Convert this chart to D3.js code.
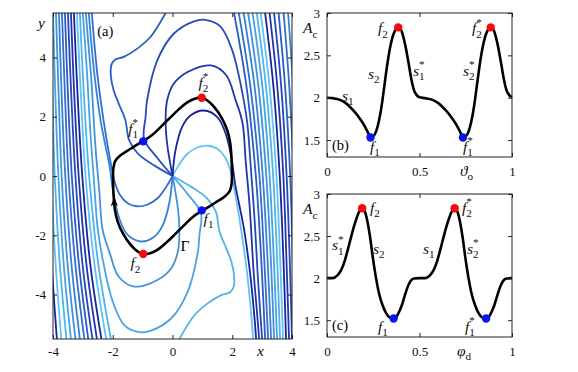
<!DOCTYPE html>
<html>
<head>
<meta charset="utf-8">
<script src="https://cdn.jsdelivr.net/npm/d3@7"></script>
<style>
  body { margin: 0; background: #fff; }
  svg { display: block; font-family: "Liberation Serif", "Times New Roman", serif; }
</style>
</head>
<body>
<div id="chart"></div>
<script>
// ---- data ----
// colour of each isochron phase (light -> navy)
const phaseColor = ["#5fc4f3", "#50b3eb", "#47a3e5", "#3f93de", "#3881d7", "#316ece", "#2b5bc5", "#2548ba", "#1f36ad", "#19239b"];

// panel (a): limit cycle Gamma
const gammaPts = [[1.0,2.64],[0.72,2.6],[0.47,2.47],[0.2,2.24],[-0.08,1.97],[-0.4,1.65],[-0.68,1.38],[-1.0,1.17],[-1.4,0.92],[-1.74,0.7],[-1.92,0.5],[-1.98,0.25],[-1.99,-0.15],[-1.97,-0.68],[-1.93,-1.12],[-1.84,-1.52],[-1.66,-1.94],[-1.42,-2.3],[-1.2,-2.52],[-1.0,-2.64],[-0.72,-2.6],[-0.47,-2.47],[-0.2,-2.24],[0.08,-1.97],[0.4,-1.65],[0.68,-1.38],[1.0,-1.17],[1.4,-0.92],[1.74,-0.7],[1.92,-0.5],[1.98,-0.25],[1.99,0.15],[1.97,0.68],[1.93,1.12],[1.84,1.52],[1.66,1.94],[1.42,2.3],[1.2,2.52]];
const gammaArrow = [-1.95, -0.9];

// isochrons starting at the origin
const isoCapLight = [[0,0],[0.2,0.35],[0.5,0.75],[0.85,0.97],[1.2,1.02],[1.5,0.92],[1.75,0.65],[1.92,0.25],[2.04,-0.3],[2.15,-0.9],[2.3,-1.83],[2.5,-3.3],[2.62,-4.5],[2.7,-5.5]];
const isoCapNavy = [[0,0],[0.1,0.87],[0.32,1.65],[0.6,2.04],[1.05,2.21],[1.5,1.99],[1.78,1.43],[1.97,0.64],[2.1,-0.3],[2.22,-0.9],[2.4,-1.83],[2.6,-3.3],[2.72,-4.5],[2.8,-5.5]];
const isoCap37 = [[0,0],[-0.18,1.09],[-0.23,1.88],[-0.18,2.55],[0.04,3.11],[0.49,3.5],[1.28,3.73],[1.8,3.4],[2.1,2.6],[2.34,1.81],[2.45,0.5],[2.58,-1],[2.72,-3.3],[2.82,-4.5],[2.9,-5.5]];
const isoCap525 = [[0,0],[-0.5,0.6],[-0.95,1.25],[-0.9,2.0],[-0.85,2.55],[-0.51,3.9],[0.04,4.8],[0.72,5.22],[1.1,5.27],[1.6,5.05],[2.0,4.24],[2.3,3.0],[2.5,1.81],[2.62,0.3],[2.75,-1.5],[2.85,-3.3],[2.93,-4.5],[3.0,-5.5]];
const isoHookUp = [[0,0],[-0.6,0.35],[-1.15,0.75],[-1.45,1.2],[-1.58,1.9],[-1.8,2.44],[-1.97,2.89],[-2.06,3.34],[-2.05,3.73],[-1.93,3.92],[-1.63,4.02],[-1.19,4.29],[-0.74,4.69],[-0.23,5.5]];
const isoCupLight = [[0,0],[-0.2,-0.35],[-0.5,-0.75],[-0.85,-0.97],[-1.2,-1.02],[-1.5,-0.92],[-1.75,-0.65],[-1.92,-0.25],[-2.04,0.3],[-2.15,0.9],[-2.3,1.83],[-2.5,3.3],[-2.62,4.5],[-2.7,5.5]];
const isoCup22 = [[0,0],[-0.1,-0.87],[-0.32,-1.65],[-0.6,-2.04],[-1.05,-2.21],[-1.5,-1.99],[-1.78,-1.43],[-1.97,-0.64],[-2.1,0.3],[-2.22,0.9],[-2.4,1.83],[-2.6,3.3],[-2.72,4.5],[-2.8,5.5]];
const isoCup37 = [[0,0],[0.18,-1.09],[0.23,-1.88],[0.18,-2.55],[-0.04,-3.11],[-0.49,-3.5],[-1.28,-3.73],[-1.8,-3.4],[-2.1,-2.6],[-2.34,-1.81],[-2.45,-0.5],[-2.58,1],[-2.72,3.3],[-2.82,4.5],[-2.9,5.5]];
const isoCup525 = [[0,0],[0.5,-0.6],[0.95,-1.25],[0.9,-2.0],[0.85,-2.55],[0.51,-3.9],[-0.04,-4.8],[-0.72,-5.22],[-1.1,-5.27],[-1.6,-5.05],[-2.0,-4.24],[-2.3,-3.0],[-2.5,-1.81],[-2.62,-0.3],[-2.75,1.5],[-2.85,3.3],[-2.93,4.5],[-3.0,5.5]];
const isoHookLow = [[0,0],[0.6,-0.35],[1.15,-0.75],[1.45,-1.2],[1.58,-1.9],[1.8,-2.44],[1.97,-2.89],[2.06,-3.34],[2.05,-3.73],[1.93,-3.92],[1.63,-4.02],[1.19,-4.29],[0.74,-4.69],[0.23,-5.5]];
const isoList = [isoCapLight, isoHookLow, isoCup525, isoCup37, isoCup22, isoCupLight, isoHookUp, isoCap525, isoCap37, isoCapNavy];
const isoPhase = [0, 1, 2, 3, 4, 5, 6, 7, 8, 9];

// outer windings: x positions at the heights in farY
const farY = [5.5, 3, 0, -3, -5.5];
const farRightX = [
  [2.06,2.48,2.79,2.98,3.1],[2.22,2.61,2.91,3.08,3.2],[2.38,2.75,3.02,3.19,3.3],[2.53,2.88,3.14,3.30,3.4],
  [2.68,3.01,3.25,3.40,3.5],[2.82,3.13,3.37,3.51,3.6],[2.95,3.25,3.48,3.61,3.7],[3.1,3.38,3.59,3.72,3.8],
  [3.25,3.51,3.71,3.82,3.9],[3.4,3.64,3.82,3.93,4.0],[3.55,3.77,3.94,4.03,4.1],[3.72,3.91,4.06,4.14,4.2],
  [3.87,4.04,4.17,4.25,4.3]];
const farRightPhase = [6, 5, 4, 3, 2, 1, 0, 9, 8, 7, 6, 5, 4];
const farLeftX = [
  [-3.1,-2.98,-2.79,-2.48,-2.06],[-3.2,-3.08,-2.91,-2.61,-2.22],[-3.3,-3.19,-3.02,-2.75,-2.38],[-3.4,-3.30,-3.14,-2.88,-2.53],
  [-3.5,-3.40,-3.25,-3.01,-2.68],[-3.6,-3.51,-3.37,-3.13,-2.82],[-3.7,-3.61,-3.48,-3.25,-2.95],[-3.8,-3.72,-3.59,-3.38,-3.1],
  [-3.9,-3.82,-3.71,-3.51,-3.25],[-4.0,-3.93,-3.82,-3.64,-3.4],[-4.1,-4.03,-3.94,-3.77,-3.55],[-4.2,-4.14,-4.06,-3.91,-3.72],
  [-4.3,-4.25,-4.17,-4.04,-3.87]];
const farLeftPhase = [1, 0, 9, 8, 7, 6, 5, 4, 3, 2, 1, 0, 9];

// special points on Gamma: f1, f2, f1*, f2*
const aPts = [[0.98,-1.16],[-0.98,-2.63],[-0.98,1.17],[0.98,2.64]];
const aPtKind = ["min", "max", "min", "max"];
const aTicks = [-4, -2, 0, 2, 4];

// panel (b): A_c vs theta_o
const bTheta = [0,0.03,0.07,0.105,0.14,0.177,0.205,0.222,0.235,0.25,0.265,0.28,0.295,0.31,0.325,0.34,0.355,0.37,0.385,0.398,0.41,0.425,0.44,0.455,0.47,0.485,0.5,
  0.53,0.57,0.605,0.64,0.677,0.705,0.722,0.735,0.75,0.765,0.78,0.795,0.81,0.825,0.84,0.855,0.87,0.885,0.898,0.91,0.925,0.94,0.955,0.97,0.985,1.0];
const bAc = [2.0,1.995,1.975,1.93,1.855,1.755,1.66,1.585,1.53,1.545,1.6,1.72,1.9,2.14,2.38,2.58,2.72,2.8,2.83,2.81,2.74,2.6,2.42,2.23,2.09,2.03,2.005,
  1.995,1.975,1.93,1.855,1.755,1.66,1.585,1.53,1.545,1.6,1.72,1.9,2.14,2.38,2.58,2.72,2.8,2.83,2.81,2.74,2.6,2.42,2.23,2.09,2.03,2.005];
const bPtX = [0.235, 0.385, 0.735, 0.885];
const bPtY = [1.53, 2.83, 1.53, 2.83];
const bPtKind = ["min", "max", "min", "max"];

// panel (c): A_c vs phi_d
const cPhi = [0,0.03,0.055,0.075,0.095,0.115,0.135,0.155,0.172,0.19,0.205,0.218,0.232,0.248,0.265,0.28,0.3,0.32,0.34,0.36,0.375,0.39,0.405,0.42,0.435,0.45,0.47,0.5,
  0.53,0.555,0.575,0.595,0.615,0.635,0.655,0.672,0.69,0.705,0.718,0.732,0.748,0.765,0.78,0.8,0.82,0.84,0.86,0.875,0.89,0.905,0.92,0.935,0.95,0.97,1.0];
const cAc = [2.0,2.0,2.03,2.09,2.2,2.36,2.53,2.68,2.78,2.83,2.79,2.68,2.5,2.24,2.0,1.83,1.68,1.58,1.53,1.52,1.54,1.6,1.68,1.79,1.89,1.96,1.995,2.0,
  2.0,2.03,2.09,2.2,2.36,2.53,2.68,2.78,2.83,2.79,2.68,2.5,2.24,2.0,1.83,1.68,1.58,1.53,1.52,1.54,1.6,1.68,1.79,1.89,1.96,1.995,2.0];
const cPtX = [0.19, 0.36, 0.69, 0.86];
const cPtY = [2.83, 1.52, 2.83, 1.52];
const cPtKind = ["max", "min", "max", "min"];

const rTicksX = [0, 0.5, 1];
const rTicksY = [1.5, 2, 2.5, 3];

// ---- drawing ----
const W = 578, H = 372;
const kindColor = { min: "#0a14f0", max: "#f50a0a" };
const fmt = d => String(d);

const svg = d3.select("#chart").append("svg").attr("width", W).attr("height", H);

function axesBox(g, x, y, xt, yt, padX) {
  const [x0, x1] = x.range(), [y0, y1] = y.range();
  const ax = [
    g.append("g").attr("transform", `translate(0,${y0})`).call(d3.axisBottom(x).tickValues(xt).tickSize(-4).tickPadding(padX).tickFormat(fmt)),
    g.append("g").attr("transform", `translate(0,${y1})`).call(d3.axisTop(x).tickValues(xt).tickSize(-4).tickFormat("")),
    g.append("g").attr("transform", `translate(${x0},0)`).call(d3.axisLeft(y).tickValues(yt).tickSize(-4).tickPadding(7).tickFormat(fmt)),
    g.append("g").attr("transform", `translate(${x1},0)`).call(d3.axisRight(y).tickValues(yt).tickSize(-4).tickFormat(""))
  ];
  ax.forEach(a => a.attr("font-family", "'Liberation Serif', serif").attr("font-size", 13));
  g.selectAll(".domain").remove();
  g.selectAll(".tick line").attr("stroke", "#222");
  g.selectAll(".tick text").attr("fill", "#111");
  g.append("rect").attr("x", x0).attr("y", y1).attr("width", x1 - x0).attr("height", y0 - y1)
    .attr("fill", "none").attr("stroke", "#222").attr("stroke-width", 1);
}

// label like f_1^* : italic base, upright subscript, star stacked above
function mathLabel(g, px, py, base, sub, star, fs) {
  fs = fs || 15.5;
  const t = g.append("text").attr("x", px).attr("y", py).attr("font-size", fs).attr("fill", "#111");
  t.append("tspan").attr("font-style", "italic").text(base);
  if (sub) t.append("tspan").attr("font-size", fs * 0.72).attr("dy", fs * 0.28).text(sub);
  if (star) t.append("tspan").attr("font-size", fs * 0.72).attr("dx", -fs * 0.36).attr("dy", -fs * 0.78).text("*");
}

// ---------- panel (a) ----------
const xA = d3.scaleLinear().domain([-4, 4]).range([53, 292]);
const yA = d3.scaleLinear().domain([-5.5, 5.5]).range([339, 13]);
const gA = svg.append("g");
svg.append("clipPath").attr("id", "clipA").append("rect")
  .attr("x", 53).attr("y", 13).attr("width", 239).attr("height", 326);
const plotA = gA.append("g").attr("clip-path", "url(#clipA)");
const lineA = d3.line().x(d => xA(d[0])).y(d => yA(d[1])).curve(d3.curveCatmullRom.alpha(0.5));

farRightX.forEach((xs, i) => plotA.append("path").datum(xs.map((v, j) => [v, farY[j]]))
  .attr("d", lineA).attr("fill", "none").attr("stroke", phaseColor[farRightPhase[i]]).attr("stroke-width", 1.8));
farLeftX.forEach((xs, i) => plotA.append("path").datum(xs.map((v, j) => [v, farY[j]]))
  .attr("d", lineA).attr("fill", "none").attr("stroke", phaseColor[farLeftPhase[i]]).attr("stroke-width", 1.8));
isoList.forEach((pts, i) => plotA.append("path").datum(pts)
  .attr("d", lineA).attr("fill", "none").attr("stroke", phaseColor[isoPhase[i]]).attr("stroke-width", 1.8));

plotA.append("path").datum(gammaPts)
  .attr("d", d3.line().x(d => xA(d[0])).y(d => yA(d[1])).curve(d3.curveCatmullRomClosed.alpha(0.5)))
  .attr("fill", "none").attr("stroke", "#000").attr("stroke-width", 2.6);
plotA.append("path").attr("d", "M0,-6L3.6,3.5L0,1.2L-3.6,3.5Z").attr("fill", "#000")
  .attr("transform", `translate(${xA(gammaArrow[0])},${yA(gammaArrow[1])})`);

plotA.selectAll("circle.pa").data(aPts).join("circle").attr("class", "pa")
  .attr("cx", d => xA(d[0])).attr("cy", d => yA(d[1])).attr("r", 4.2)
  .attr("fill", (d, i) => kindColor[aPtKind[i]]);

axesBox(gA, xA, yA, aTicks, aTicks, 8);
mathLabel(gA, 38, 28, "y");
mathLabel(gA, 257, 356, "x");
gA.append("text").attr("x", xA(-2.52)).attr("y", yA(4.72)).attr("font-size", 14.5).text("(a)");
mathLabel(gA, xA(0.87), yA(2.97), "f", "2", true);
mathLabel(gA, xA(-1.48), yA(1.42), "f", "1", true);
mathLabel(gA, xA(1.04), yA(-1.62), "f", "1", false);
mathLabel(gA, xA(-1.41), yA(-3.12), "f", "2", false);
gA.append("text").attr("x", xA(0.27)).attr("y", yA(-2.53)).attr("font-size", 15.5).text("Γ");

// ---------- panels (b) and (c) ----------
function rightPanel(y0, y1, xs, ys, px, py, pk, tag, labels, xlab) {
  const x = d3.scaleLinear().domain([0, 1]).range([327, 512]);
  const y = d3.scaleLinear().domain([1.3, 3]).range([y1, y0]);
  const g = svg.append("g");
  g.append("path").datum(xs.map((v, i) => [v, ys[i]]))
    .attr("d", d3.line().x(d => x(d[0])).y(d => y(d[1])).curve(d3.curveMonotoneX))
    .attr("fill", "none").attr("stroke", "#000").attr("stroke-width", 2.6);
  g.selectAll("circle").data(px).join("circle")
    .attr("cx", d => x(d)).attr("cy", (d, i) => y(py[i])).attr("r", 4.2)
    .attr("fill", (d, i) => kindColor[pk[i]]);
  axesBox(g, x, y, rTicksX, rTicksY, 10);
  mathLabel(g, 303, y(2.76), "A", "c", false);
  g.append("text").attr("x", x(0.027)).attr("y", y(1.385)).attr("font-size", 14.5).text(tag);
  labels.forEach(l => mathLabel(g, x(l[0]), y(l[1]), l[2], l[3], l[4]));
  mathLabel(g, xlab[0], y1 + 19, xlab[1], xlab[2], false);
}

rightPanel(13, 157, bTheta, bAc, bPtX, bPtY, bPtKind, "(b)", [
  [0.276, 2.76, "f", "2", false], [0.784, 2.76, "f", "2", true],
  [0.081, 1.96, "s", "1", false], [0.222, 2.22, "s", "2", false],
  [0.465, 2.26, "s", "1", true], [0.735, 2.26, "s", "2", true],
  [0.232, 1.36, "f", "1", false], [0.735, 1.36, "f", "1", true]
], [460, "ϑ", "o"]);

rightPanel(194, 337, cPhi, cAc, cPtX, cPtY, cPtKind, "(c)", [
  [0.232, 2.78, "f", "2", false], [0.73, 2.78, "f", "2", true],
  [0.027, 2.33, "s", "1", true], [0.249, 2.29, "s", "2", false],
  [0.519, 2.29, "s", "1", false], [0.757, 2.29, "s", "2", true],
  [0.276, 1.36, "f", "1", false], [0.746, 1.36, "f", "1", true]
], [457, "φ", "d"]);
</script>
</body>
</html>
